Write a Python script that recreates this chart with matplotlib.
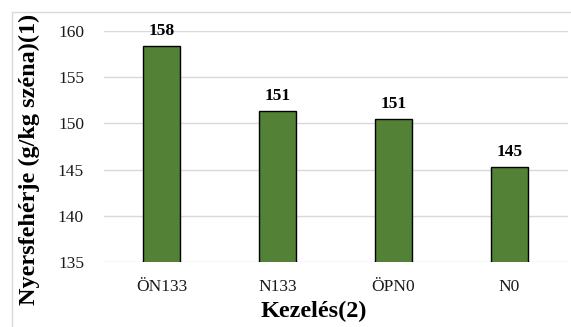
import matplotlib
matplotlib.use("Agg")
import matplotlib.pyplot as plt
from matplotlib.patches import Rectangle

categories = ["ÖN133", "N133", "ÖPN0", "N0"]
values = [158.4, 151.3, 150.5, 145.3]
value_labels = ["158", "151", "151", "145"]
y_ticks = [135, 140, 145, 150, 155, 160]

W, H = 571, 327
plt.rcParams["font.family"] = ["Liberation Serif", "DejaVu Serif"]

fig = plt.figure(figsize=(W / 100, H / 100), dpi=100)
fig.patch.set_facecolor("white")

# outer chart frame (top and left edges visible)
fig.patches.append(Rectangle((12 / W, -0.2), 1.2, (1 - 12 / H) + 0.2,
                             transform=fig.transFigure, fill=False,
                             edgecolor="#d9d9d9", linewidth=1.0, zorder=0))

ax = fig.add_axes([103.5 / W, 1 - 262 / H, 464 / W, 231 / H])
x = list(range(len(categories)))
bars = ax.bar(x, values, width=0.32, bottom=0, color="#538135",
              edgecolor="black", linewidth=1.0, zorder=3)

ax.set_ylim(135, 160)
ax.set_xlim(-0.5, len(categories) - 0.5)
ax.set_yticks(y_ticks)
ax.set_yticklabels([str(t) for t in y_ticks], fontsize=12.5)
ax.set_xticks(x)
ax.set_xticklabels(categories, fontsize=12.5)
ax.tick_params(axis="both", length=0)
ax.tick_params(axis="y", pad=14)
ax.tick_params(axis="x", pad=12)
for lbl in ax.get_xticklabels() + ax.get_yticklabels():
    lbl.set_color("#1a1a1a")

ax.yaxis.grid(True, color="#d9d9d9", linewidth=1.0, zorder=0)
ax.set_axisbelow(True)
for s in ax.spines.values():
    s.set_visible(False)

for xi, v, t in zip(x, values, value_labels):
    ax.annotate(t, (xi, v), xytext=(0, 5), textcoords="offset points",
                ha="center", va="bottom", fontsize=12.5, fontweight="bold",
                annotation_clip=False)

fig.text(29 / W, 1 - 159 / H, "Nyersfehérje (g/kg széna)(1)", rotation=90,
         ha="center", va="center", fontsize=17.5, fontweight="bold")
fig.text(314 / W, 1 - 311 / H, "Kezelés(2)", ha="center", va="center",
         fontsize=17.5, fontweight="bold")

fig.savefig("out.png", dpi=100)
